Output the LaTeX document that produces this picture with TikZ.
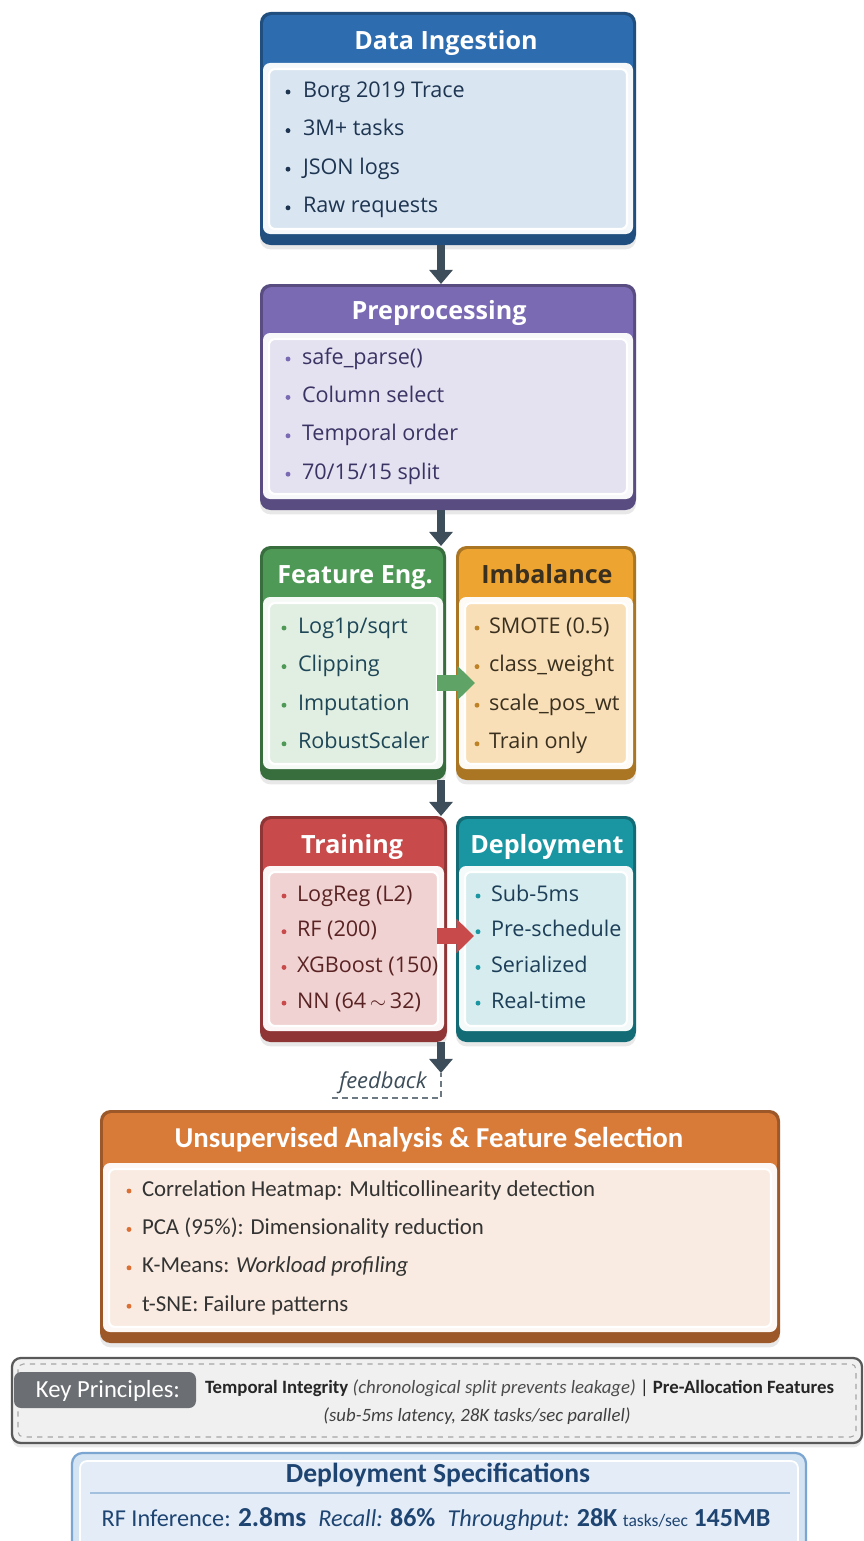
\documentclass[tikz,border=0pt]{standalone}
\usepackage{fontspec}
\setmainfont{Open Sans}
\newfontfamily\narrowfont{Carlito}
\usetikzlibrary{arrows.meta,fit,shadows}
\definecolor{ingblue}{HTML}{2C6CAF}
\definecolor{prepviolet}{HTML}{7A6AB3}
\definecolor{featgreen}{HTML}{4E9956}
\definecolor{imbalorange}{HTML}{EEA431}
\definecolor{trainred}{HTML}{C84A4A}
\definecolor{deployteal}{HTML}{1A96A2}
\definecolor{unsuporange}{HTML}{D87B39}
\definecolor{slate}{HTML}{3D4D59}
\definecolor{ingtext}{HTML}{1E3552}
\definecolor{preptext}{HTML}{3A3464}
\definecolor{feattext}{HTML}{1D4657}
\definecolor{imbaltext}{HTML}{3A3020}
\definecolor{traintext}{HTML}{5A2323}
\definecolor{deploytext}{HTML}{1D3E58}
\definecolor{keygray}{HTML}{6B6F73}
\definecolor{specblue}{HTML}{1E4472}
\definecolor{specborder}{HTML}{7BA6D2}
\definecolor{specfill}{HTML}{D5E4F2}
\definecolor{specinner}{HTML}{E4EDF7}
\tikzset{
  every node/.style={inner sep=0pt, outer sep=0pt},
  box title/.style={anchor=base, text=white, font=\fontsize{14.3}{17}\selectfont\bfseries},
  item/.style={anchor=base west, font=\fontsize{12.3}{15}\selectfont},
  narrow item/.style={anchor=base west, text=black!80, font=\narrowfont\fontsize{13}{16}\selectfont},
  flow/.style={draw=slate, line width=4pt, -{Triangle[width=13pt,length=8pt]}},
  fat arrow/.style={line width=9pt, -{Triangle[width=19pt,length=10pt]}},
  hold/.style={fit={#1}, inner sep=0pt},
  soft shadow/.style={drop shadow={opacity=0.18, shadow xshift=0pt, shadow yshift=-2.5pt}},
  fb line/.style={draw=slate!75, line width=1.1pt, dash pattern=on 3.5pt off 2.2pt}
}

\begin{document}
\begin{tikzpicture}[x=0.02cm, y=-0.02cm, line join=round]
  \useasboundingbox (0,0) rectangle (864,1541);
  \fill[white] (0,0) rectangle (864,1541);
  \coordinate (spine) at (441,0);

  % stage boxes: border, header band, body, inner panel
  \foreach \nm/\xa/\ya/\xb/\yb/\hb/\col/\tint in {
      ingest/260/12/636/245/63/ingblue/18,
      prep/260/284/636/510/333/prepviolet/20,
      feat/260/546/446/780/597/featgreen/17,
      imbal/456/546/636/780/597/imbalorange/35,
      train/260/816/447/1042/866/trainred/25,
      deploy/456/816/636/1042/866/deployteal/18,
      unsup/100/1110/780/1343/1163/unsuporange/15} {
    \fill[\col!72!black, rounded corners=6pt, soft shadow] (\xa,\ya) rectangle (\xb,\yb);
    \fill[\col, rounded corners=5pt] (\xa+3,\ya+3) rectangle (\xb-3,\hb+10);
    \fill[\col!5!white, rounded corners=4pt] (\xa+3,\hb) rectangle (\xb-3,\yb-11);
    \filldraw[fill=\col!\tint!white, draw=white, line width=1.2pt, rounded corners=3.5pt]
      (\xa+9,\hb+6) rectangle (\xb-9,\yb-16);
    \node[hold={(\xa,\ya) (\xb,\yb)}] (\nm) {};
  }

  % titles
  \node[box title] (ingest-t) at (446,50) {Data Ingestion};
  \node[box title] (prep-t) at (439,319) {Preprocessing};
  \node[box title] (feat-t) at (355,583) {Feature Eng.};
  \node[box title, text=imbaltext] (imbal-t) at (547,583) {Imbalance};
  \node[box title] (train-t) at (352,853) {Training};
  \node[box title] (deploy-t) at (547,853) {Deployment};
  \node[box title, font=\narrowfont\fontsize{16.4}{19}\selectfont\bfseries] (unsup-t) at (429,1147)
    {Unsupervised Analysis \& Feature Selection};

  % bullet lists
  \foreach \t [count=\i from 0] in {Borg 2019 Trace, 3M+ tasks, JSON logs, Raw requests} {
    \fill[ingtext] (288,92+\i*38.6) circle (1.4pt);
    \node[item, text=ingtext] (ingest-\i) at (303,97+\i*38.6) {\t};
  }
  \foreach \t [count=\i from 0] in {safe\_parse(), Column select, Temporal order, {70/15/15 split}} {
    \fill[prepviolet] (288,359+\i*38.4) circle (1.4pt);
    \node[item, text=preptext] (prep-\i) at (302,364+\i*38.4) {\t};
  }
  \foreach \t [count=\i from 0] in {{Log1p/sqrt}, Clipping, Imputation, RobustScaler} {
    \fill[featgreen] (284,628+\i*38.6) circle (1.4pt);
    \node[item, text=feattext] (feat-\i) at (298,633+\i*38.6) {\t};
  }
  \foreach \t [count=\i from 0] in {SMOTE (0.5), class\_weight, scale\_pos\_wt, Train only} {
    \fill[imbalorange!80!black] (477,628+\i*38.6) circle (1.4pt);
    \node[item, text=imbaltext] (imbal-\i) at (489,633+\i*38.6) {\t};
  }
  \foreach \t [count=\i from 0] in {LogReg (L2), RF (200), XGBoost (150), NN (64\,$\sim$\,32)} {
    \fill[trainred] (284,896+\i*35.7) circle (1.4pt);
    \node[item, text=traintext] (train-\i) at (297,901+\i*35.7) {\t};
  }
  \foreach \t [count=\i from 0] in {Sub-5ms, Pre-schedule, Serialized, Real-time} {
    \fill[deployteal] (478,896+\i*35.7) circle (1.4pt);
    \node[item, text=deploytext] (deploy-\i) at (491,901+\i*35.7) {\t};
  }
  \foreach \t [count=\i from 0] in {Correlation Heatmap: Multicollinearity detection,
      PCA (95\%): Dimensionality reduction, K-Means: \textit{Workload profiling},
      t-SNE: Failure patterns} {
    \fill[unsuporange!90!red] (129,1191+\i*38.4) circle (1.4pt);
    \node[narrow item] (unsup-\i) at (142,1196+\i*38.4) {\t};
  }

  % flow between stages
  \draw[flow] (ingest.south -| spine) -- (prep.north -| spine);
  \draw[flow] (prep.south -| spine) -- (feat.north -| spine);
  \draw[flow] (feat.south -| spine) -- (train.north -| spine);
  \coordinate (fbtip) at (441,1073);
  \draw[flow] (train.south -| spine) -- (fbtip);
  \coordinate (fe2im) at (437,683);
  \coordinate (tr2de) at (437,936);
  \draw[fat arrow, featgreen!90!white] (fe2im) -- ++(38,0);
  \draw[fat arrow, trainred] (tr2de) -- ++(37,0);

  % feedback
  \node[anchor=base, text=slate, font=\fontsize{12.5}{15}\selectfont\itshape] (fb) at (383,1088) {feedback};
  \coordinate (fbcorner) at (441,1098);
  \draw[fb line] (332,1098) -- (fbcorner) -- (fbtip);

  % key principles strip
  \filldraw[fill=black!6, draw=black!65, line width=1.3pt, rounded corners=5pt, soft shadow]
    (12,1358) rectangle (862,1443);
  \draw[black!35, dashed, line width=0.6pt, rounded corners=3pt] (18,1364) rectangle (856,1437);
  \fill[keygray, rounded corners=4pt] (14,1372) rectangle (196,1408);
  \node[anchor=base, text=white, font=\narrowfont\fontsize{14}{17}\selectfont] (key-t) at (108,1397) {Key Principles:};
  \node[anchor=base west, text=black!85, font=\narrowfont\fontsize{10.7}{13}\selectfont] (key-1) at (205,1393)
    {\textbf{Temporal Integrity} {\itshape\color{black!70}(chronological split prevents leakage)} | \textbf{Pre-Allocation Features}};
  \node[anchor=base, text=black!75, font=\narrowfont\fontsize{10.7}{13}\selectfont\itshape] (key-2) at (477,1421)
    {(sub-5ms latency, 28K tasks/sec parallel)};

  % deployment specifications
  \filldraw[fill=specfill, draw=specborder, line width=1.3pt, rounded corners=6pt, soft shadow]
    (72,1453) rectangle (806,1570);
  \filldraw[fill=specinner, draw=white, line width=1pt, rounded corners=4pt] (80,1461) rectangle (798,1570);
  \node[anchor=base, text=specblue, font=\narrowfont\fontsize{15.7}{19}\selectfont\bfseries] (spec-t) at (438,1482)
    {Deployment Specifications};
  \draw[specborder!70, line width=0.8pt] (90,1493) -- (790,1493);
  \node[anchor=base, text=specblue, font=\narrowfont\fontsize{13.8}{17}\selectfont] (spec-v) at (436,1526)
    {RF Inference: {\bfseries\fontsize{15.6}{19}\selectfont 2.8ms}\enspace
     {\itshape Recall:} {\bfseries\fontsize{14.8}{18}\selectfont 86\%}\enspace
     {\itshape Throughput:} {\bfseries\fontsize{14.8}{18}\selectfont 28K}
     {\fontsize{10}{12}\selectfont tasks/sec} {\bfseries\fontsize{14.8}{18}\selectfont 145MB}};
\end{tikzpicture}
\end{document}
